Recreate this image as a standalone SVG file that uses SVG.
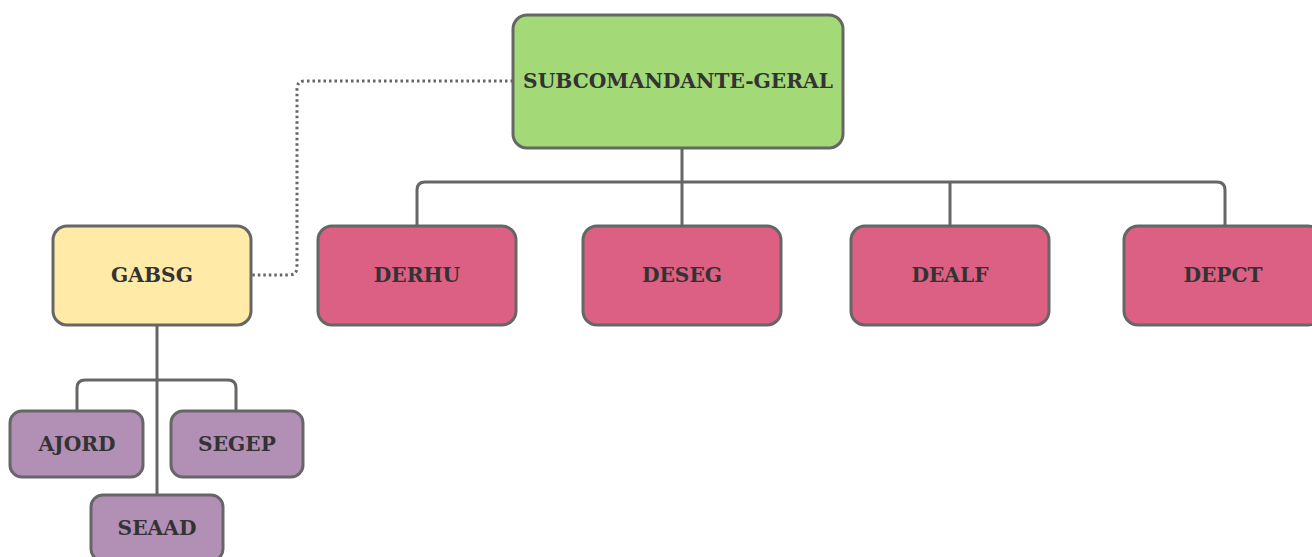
<svg xmlns="http://www.w3.org/2000/svg" width="1312" height="557" viewBox="0 0 1312 557">
<style>
.n{stroke:#666;stroke-width:3}
.t{font-family:"DejaVu Serif","Liberation Serif",serif;font-weight:bold;font-size:20.2px;fill:#333;text-anchor:middle;dominant-baseline:central}
.c{fill:none;stroke:#666;stroke-width:3}
.d{fill:none;stroke:#666;stroke-width:3;stroke-dasharray:2.5 3}
</style>
<rect width="1312" height="557" fill="#fff"/>
<g id="connectors">
<path class="c" d="M682 148V182M417 226V190Q417 182 425 182H1217Q1225 182 1225 190V226M682 182V226M950 182V226"/>
<path class="d" d="M513 81H305Q297 81 297 89V267Q297 275 289 275H251"/>
<path class="c" d="M157 325V495M77 411V388Q77 380 85 380H228Q236 380 236 388V411"/>
</g>
<g id="subcomandante"><rect class="n" x="513" y="15" width="330" height="133" rx="14" fill="#a3d977"/><text class="t" x="678" y="81">SUBCOMANDANTE-GERAL</text></g>
<g id="gabsg"><rect class="n" x="53" y="226" width="198" height="99" rx="14" fill="#ffeaa7"/><text class="t" x="152" y="275">GABSG</text></g>
<g id="derhu"><rect class="n" x="318" y="226" width="198" height="99" rx="14" fill="#dc5f84"/><text class="t" x="417" y="275">DERHU</text></g>
<g id="deseg"><rect class="n" x="583" y="226" width="198" height="99" rx="14" fill="#dc5f84"/><text class="t" x="682" y="275">DESEG</text></g>
<g id="dealf"><rect class="n" x="851" y="226" width="198" height="99" rx="14" fill="#dc5f84"/><text class="t" x="950" y="275">DEALF</text></g>
<g id="depct"><rect class="n" x="1124" y="226" width="198" height="99" rx="14" fill="#dc5f84"/><text class="t" x="1223" y="275">DEPCT</text></g>
<g id="ajord"><rect class="n" x="10" y="411" width="133" height="66" rx="12" fill="#b28fb5"/><text class="t" x="77" y="444">AJORD</text></g>
<g id="segep"><rect class="n" x="171" y="411" width="132" height="66" rx="12" fill="#b28fb5"/><text class="t" x="237" y="444">SEGEP</text></g>
<g id="seaad"><rect class="n" x="91" y="495" width="132" height="66" rx="12" fill="#b28fb5"/><text class="t" x="157" y="528">SEAAD</text></g>
</svg>
